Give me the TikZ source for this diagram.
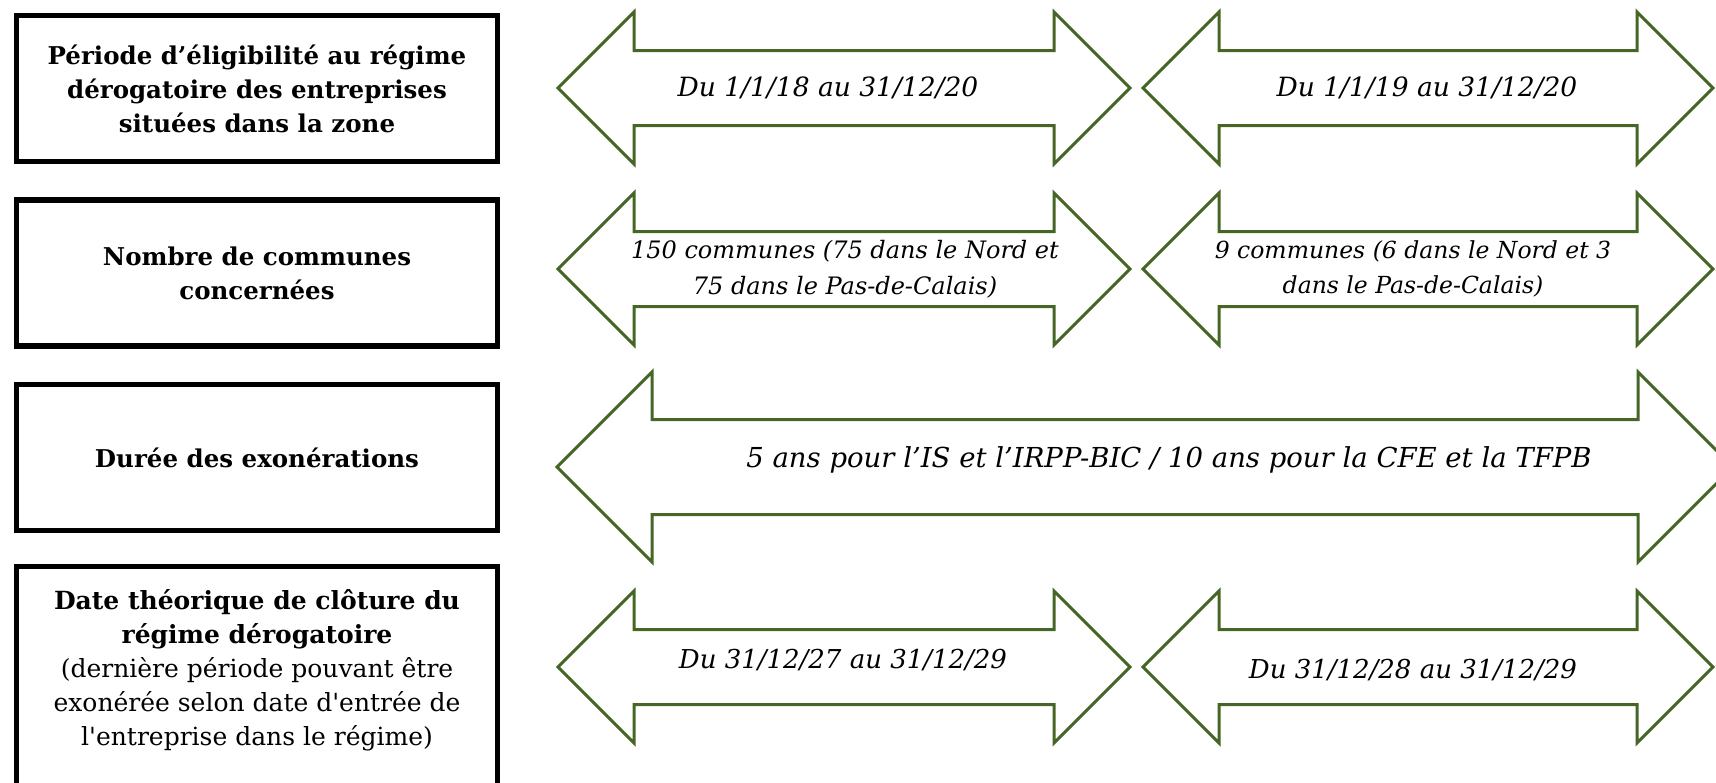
\documentclass[tikz,border=0pt]{standalone}
\usepackage{fontspec}
\setmainfont{DejaVu Serif}
\usetikzlibrary{positioning}
\definecolor{arrowgreen}{RGB}{70,102,38}

\begin{document}
\begin{tikzpicture}[x=1pt, y=-1pt,
    labelbox/.style={draw=black, line width=5.5pt, minimum width=481pt,
      minimum height=146pt, inner sep=0pt, align=center,
      font=\fontsize{24.5}{34}\selectfont\bfseries},
    arrowtext/.style={align=center, font=\fontsize{#1}{35.5}\selectfont\itshape},
    arrowtext/.default=26,
    dblarrow/.style={draw=arrowgreen, line width=3pt, line join=miter}]
  \clip (0,0) rectangle (1716,782);
  % --- row labels ---
  \node[labelbox] (period) at (257,88.5)
    {Période d’éligibilité au régime\\dérogatoire des entreprises\\situées dans la zone};
  \node[labelbox] (towns) at (257,273) {Nombre de communes\\concernées};
  \node[labelbox] (length) at (257,457.5) {Durée des exonérations};
  \node[labelbox, minimum height=280pt, anchor=north] (closing) at (257,563.5) {};
  \node[align=center, font=\fontsize{25}{34}\selectfont] (closingtext) at (257,670)
    {\textbf{Date théorique de clôture du}\\\textbf{régime dérogatoire}\\(dernière période pouvant être\\exonérée selon date d\textquotesingle entrée de\\l\textquotesingle entreprise dans le régime)};
  % --- double arrows (left tip / right tip / middle / head / shaft) ---
  \foreach \l/\r/\m/\h/\s in {558/1130/88/76/37.5, 1143/1713/88/76/37.5,
                              558/1130/269/76/37.5, 1143/1713/269/76/37.5,
                              557/1733/467/95/47.5,
                              558/1130/667/76/37.5, 1143/1713/667/76/37.5}{
    \draw[dblarrow] (\l,\m) -- ++(\h,-\h) -- ++(0,\h-\s) -- (\r-\h,\m-\s)
      -- ++(0,\s-\h) -- (\r,\m) -- ++(-\h,\h) -- ++(0,\s-\h)
      -- (\l+\h,\m+\s) -- ++(0,\h-\s) -- cycle;
  }
  % --- arrow texts ---
  \node[arrowtext=26.5] (period1) at (828,88) {Du 1/1/18 au 31/12/20};
  \node[arrowtext=26.5] (period2) at (1427,88) {Du 1/1/19 au 31/12/20};
  \node[arrowtext=24] (towns1) at (845,269) {150 communes (75 dans le Nord et\\75 dans le Pas-de-Calais)};
  \node[arrowtext=23.5] (towns2) at (1413,269) {9 communes (6 dans le Nord et 3\\dans le Pas-de-Calais)};
  \node[arrowtext=27.5] (length1) at (1169,460) {5 ans pour l’IS et l’IRPP-BIC / 10 ans pour la CFE et la TFPB};
  \node[arrowtext] (closing1) at (843,660) {Du 31/12/27 au 31/12/29};
  \node[arrowtext] (closing2) at (1413,670) {Du 31/12/28 au 31/12/29};
\end{tikzpicture}
\end{document}
